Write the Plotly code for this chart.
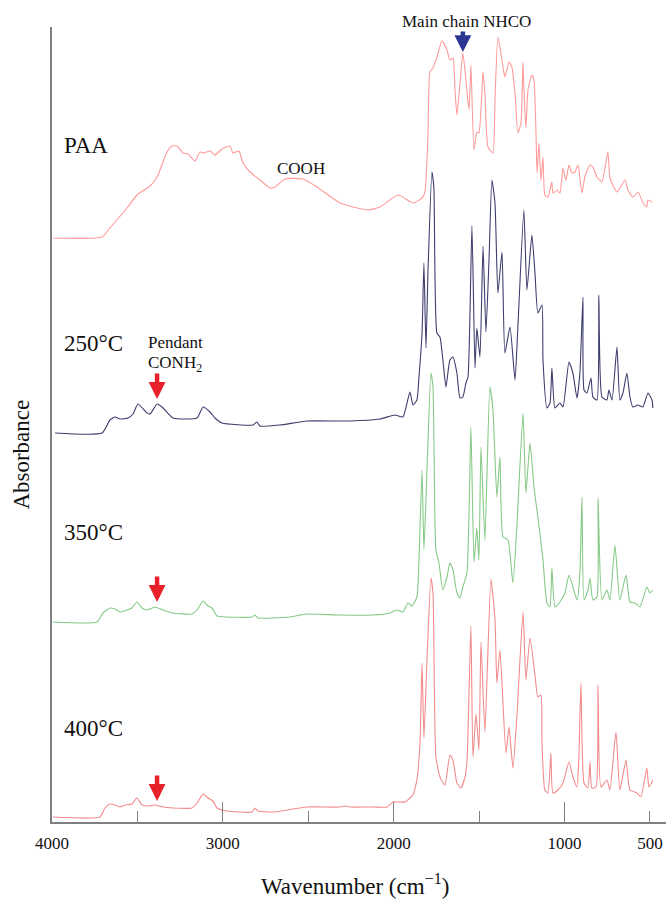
import plotly.graph_objects as go

# ---------------- data (wavenumber in cm-1, stacked absorbance in a.u.) ----------------
paa_wn = [3994, 3707, 3661, 3561, 3503, 3426, 3385, 3327, 3298, 3269, 3233, 3204, 3163, 3134, 3110,
          3075, 3046, 3005, 2958, 2941, 2906, 2882, 2841, 2783, 2724, 2695, 2636, 2531, 2449, 2314,
          2151, 2080, 1975, 1887, 1834, 1817, 1799, 1788, 1770, 1747, 1717, 1688, 1671, 1653, 1641,
          1630, 1612, 1595, 1577, 1559, 1548, 1530, 1513, 1501, 1477, 1466, 1448, 1419, 1407, 1390,
          1366, 1349, 1325, 1308, 1290, 1273, 1255, 1243, 1238, 1226, 1214, 1191, 1179, 1167, 1161,
          1150, 1138, 1126, 1115, 1097, 1074, 1068, 1044, 1027, 1009, 992, 974, 957, 939, 921, 898,
          881, 851, 834, 810, 781, 746, 734, 693, 646, 629, 600, 570, 541, 518, 512, 488]
paa_abs = [5.84, 5.85, 5.94, 6.14, 6.27, 6.36, 6.45, 6.70, 6.76, 6.76, 6.69, 6.68, 6.61, 6.70, 6.69,
           6.71, 6.67, 6.73, 6.76, 6.69, 6.71, 6.59, 6.50, 6.42, 6.34, 6.35, 6.43, 6.43, 6.35, 6.19,
           6.12, 6.15, 6.27, 6.19, 6.24, 6.30, 6.89, 7.50, 7.54, 7.65, 7.81, 7.72, 7.62, 7.64, 7.32,
           7.07, 7.39, 7.69, 7.42, 7.12, 7.57, 6.72, 6.90, 6.89, 7.50, 7.29, 6.75, 6.69, 7.22, 7.85,
           7.62, 7.45, 7.60, 7.55, 7.29, 6.89, 6.99, 7.60, 7.35, 6.94, 7.32, 7.47, 7.42, 6.89, 6.49,
           6.79, 6.42, 6.65, 6.27, 6.25, 6.40, 6.29, 6.32, 6.29, 6.54, 6.42, 6.57, 6.49, 6.50, 6.57,
           6.29, 6.45, 6.57, 6.55, 6.45, 6.40, 6.70, 6.44, 6.30, 6.42, 6.32, 6.25, 6.30, 6.19, 6.15,
           6.22, 6.20]

c250_wn = [3982, 3707, 3661, 3631, 3602, 3555, 3526, 3497, 3444, 3426, 3385, 3356, 3292, 3151, 3116,
           3075, 3046, 3005, 2824, 2800, 2783, 2666, 2508, 2256, 2080, 1992, 1946, 1905, 1887, 1864,
           1852, 1834, 1823, 1811, 1799, 1776, 1765, 1747, 1729, 1712, 1694, 1671, 1653, 1630, 1612,
           1595, 1577, 1565, 1542, 1524, 1513, 1495, 1477, 1460, 1442, 1425, 1407, 1390, 1366, 1349,
           1319, 1290, 1273, 1238, 1220, 1191, 1173, 1156, 1132, 1126, 1103, 1085, 1074, 1056, 1027,
           1009, 974, 951, 927, 910, 892, 886, 869, 845, 834, 810, 799, 781, 752, 740, 722, 693, 676,
           658, 635, 617, 600, 570, 541, 512, 488, 483]
c250_abs = [3.89, 3.89, 4.02, 4.05, 4.03, 4.04, 4.08, 4.18, 4.09, 4.08, 4.18, 4.15, 4.04, 4.04, 4.15,
            4.10, 4.04, 3.99, 3.97, 4.00, 3.96, 3.97, 4.01, 4.01, 4.03, 4.07, 4.05, 4.30, 4.17, 4.22,
            4.45, 4.89, 5.59, 4.74, 5.52, 6.50, 6.35, 4.89, 4.85, 4.62, 4.35, 4.62, 4.65, 4.49, 4.24,
            4.25, 4.39, 4.45, 5.96, 4.54, 4.94, 4.65, 5.76, 4.90, 5.62, 6.42, 6.19, 5.29, 5.70, 4.69,
            4.95, 4.42, 4.95, 6.12, 5.32, 5.87, 5.49, 5.09, 5.17, 4.62, 4.14, 4.19, 4.54, 4.14, 4.19,
            4.15, 4.60, 4.49, 4.24, 4.49, 5.25, 4.32, 4.29, 4.44, 4.25, 4.22, 5.27, 4.25, 4.22, 4.32,
            4.22, 4.75, 4.22, 4.29, 4.49, 4.25, 4.15, 4.17, 4.15, 4.29, 4.22, 4.14]

c350_wn = [3994, 3737, 3702, 3661, 3631, 3602, 3561, 3532, 3503, 3473, 3444, 3397, 3350, 3292, 3181,
           3151, 3116, 3087, 3064, 3034, 2976, 2829, 2812, 2794, 2707, 2607, 2508, 2314, 2121, 2022,
           1981, 1946, 1916, 1893, 1864, 1852, 1834, 1823, 1805, 1782, 1770, 1753, 1735, 1712, 1688,
           1671, 1653, 1630, 1612, 1595, 1571, 1548, 1530, 1513, 1501, 1489, 1466, 1437, 1419, 1396,
           1378, 1360, 1331, 1302, 1279, 1243, 1226, 1202, 1179, 1156, 1126, 1103, 1085, 1074, 1056,
           1027, 998, 974, 951, 927, 910, 898, 886, 863, 851, 834, 810, 804, 781, 752, 734, 705, 676,
           640, 617, 588, 559, 518, 500, 483]
c350_abs = [2.00, 2.00, 2.09, 2.14, 2.13, 2.10, 2.12, 2.14, 2.20, 2.14, 2.12, 2.15, 2.12, 2.09, 2.08,
            2.12, 2.21, 2.16, 2.14, 2.06, 2.05, 2.05, 2.07, 2.04, 2.04, 2.05, 2.08, 2.07, 2.07, 2.09,
            2.12, 2.10, 2.19, 2.16, 2.25, 2.62, 3.52, 2.72, 3.52, 4.49, 4.35, 2.72, 2.59, 2.32, 2.45,
            2.59, 2.52, 2.29, 2.24, 2.35, 2.49, 3.95, 2.60, 2.94, 2.62, 3.75, 2.82, 4.35, 4.12, 3.25,
            3.65, 2.85, 2.82, 2.39, 2.95, 4.09, 3.29, 3.79, 3.35, 3.05, 2.62, 2.19, 2.15, 2.54, 2.15,
            2.20, 2.29, 2.47, 2.35, 2.22, 2.49, 3.25, 2.22, 2.32, 2.44, 2.22, 2.25, 3.24, 2.22, 2.32,
            2.22, 2.77, 2.22, 2.47, 2.20, 2.19, 2.15, 2.35, 2.29, 2.32]

c400_wn = [3994, 3719, 3690, 3661, 3631, 3602, 3573, 3532, 3503, 3473, 3438, 3397, 3350, 3292, 3181,
           3151, 3116, 3087, 3058, 3034, 2976, 2829, 2812, 2794, 2707, 2589, 2508, 2314, 2285, 2256,
           2121, 2039, 2004, 1981, 1934, 1905, 1887, 1864, 1846, 1834, 1823, 1805, 1782, 1770, 1753,
           1729, 1700, 1671, 1653, 1630, 1606, 1583, 1571, 1548, 1536, 1518, 1501, 1489, 1466, 1431,
           1407, 1396, 1378, 1343, 1325, 1302, 1279, 1243, 1226, 1202, 1173, 1156, 1138, 1132, 1115,
           1097, 1080, 1068, 1039, 1009, 974, 951, 927, 916, 904, 886, 863, 851, 840, 816, 804, 787,
           752, 734, 699, 676, 640, 617, 576, 553, 518, 506, 483]
c400_abs = [0.05, 0.05, 0.14, 0.18, 0.17, 0.15, 0.17, 0.18, 0.24, 0.17, 0.16, 0.17, 0.15, 0.14, 0.14,
            0.19, 0.28, 0.24, 0.21, 0.14, 0.11, 0.10, 0.14, 0.11, 0.10, 0.13, 0.15, 0.15, 0.16, 0.15,
            0.15, 0.15, 0.20, 0.20, 0.20, 0.24, 0.27, 0.42, 0.79, 1.59, 0.84, 1.62, 2.44, 2.29, 0.65,
            0.45, 0.37, 0.67, 0.62, 0.39, 0.34, 0.45, 0.60, 1.96, 0.65, 1.08, 0.72, 1.80, 0.90, 2.43,
            2.02, 1.39, 1.72, 0.69, 0.95, 0.54, 1.05, 2.10, 1.42, 1.84, 1.47, 1.25, 1.27, 0.79, 0.32,
            0.29, 0.69, 0.29, 0.32, 0.39, 0.60, 0.45, 0.35, 0.65, 1.39, 0.39, 0.34, 0.60, 0.34, 0.35,
            1.37, 0.35, 0.42, 0.32, 0.90, 0.32, 0.62, 0.32, 0.29, 0.25, 0.54, 0.35, 0.42]

series_names = ["PAA", "250°C", "350°C", "400°C"]
series_colors = ["#ff9a9a", "#3d3d6e", "#86c986", "#f28b8b"]

# ---------------- figure ----------------
SERIF = "Liberation Serif"
TXT = "#111111"
fig = go.Figure()
for wn, ab, name, col in zip([paa_wn, c250_wn, c350_wn, c400_wn],
                             [paa_abs, c250_abs, c350_abs, c400_abs],
                             series_names, series_colors):
    fig.add_trace(go.Scatter(x=wn, y=ab, mode="lines", name=name,
                             line=dict(color=col, width=1.1, shape="spline", smoothing=0.5),
                             showlegend=False))

# invisible trace so the overlay axis (for the "500" label) renders
fig.add_trace(go.Scatter(x=[500], y=[0], xaxis="x2", mode="markers",
                         marker=dict(opacity=0), showlegend=False, hoverinfo="skip"))

# sample labels
label_y = [6.77, 4.79, 2.90, 0.94]
for name, yy in zip(series_names, label_y):
    fig.add_annotation(x=3941, y=yy, xref="x", yref="y", text=name, showarrow=False,
                       xanchor="left", yanchor="middle", font=dict(family=SERIF, size=23, color=TXT))

small = dict(family=SERIF, size=17, color=TXT)
fig.add_annotation(x=2543, y=6.54, text="COOH", showarrow=False, xanchor="center", yanchor="middle",
                   font=small)
fig.add_annotation(x=3450, y=4.80, text="Pendant", showarrow=False, xanchor="left", yanchor="middle",
                   font=small)
fig.add_annotation(x=3450, y=4.58, text="CONH<sub>2</sub>", showarrow=False, xanchor="left",
                   yanchor="middle", font=small)
fig.add_annotation(x=1571, y=1.0075, xref="x", yref="paper", text="Main chain NHCO", showarrow=False,
                   xanchor="center", yanchor="middle", font=small)

# arrows
for yy in [4.23, 2.20, 0.21]:
    fig.add_annotation(x=3385, y=yy, ax=0, ay=-27, showarrow=True, arrowhead=2, arrowsize=0.75,
                       arrowwidth=4.5, arrowcolor="#e8212b", text="")
fig.add_annotation(x=1595, y=7.70, ax=0, ay=-22, showarrow=True, arrowhead=2, arrowsize=0.75,
                   arrowwidth=4.5, arrowcolor="#2b3593", text="")

# axis titles
fig.add_annotation(x=-0.049, y=0.462, xref="paper", yref="paper", text="Absorbance", textangle=-90,
                   xanchor="center", yanchor="middle", showarrow=False,
                   font=dict(family=SERIF, size=23, color=TXT))
fig.add_annotation(x=0.4935, y=-0.058, xref="paper", yref="paper", text="Wavenumber (cm<sup>−1</sup>)",
                   xanchor="center", yanchor="top", showarrow=False,
                   font=dict(family=SERIF, size=23, color=TXT))

axis_col = "#7f7f7f"
tickfont = dict(family=SERIF, size=17, color=TXT)
fig.update_layout(
    width=666, height=905,
    margin=dict(l=52, r=0, t=27, b=83),
    paper_bgcolor="white", plot_bgcolor="white",
    font=dict(family=SERIF),
    xaxis=dict(range=[4000, 406], showgrid=False, zeroline=False, showline=True,
               linecolor=axis_col, linewidth=1.5,
               tickmode="array", tickvals=[4000, 3000, 2000, 1000],
               ticktext=["4000", "3000", "2000", "1000"],
               ticks="inside", ticklen=20, tickwidth=1.3, tickcolor=axis_col,
               ticklabelstandoff=5, tickfont=tickfont,
               minor=dict(dtick=500, tick0=0, ticks="inside", ticklen=11, tickwidth=1.3,
                          tickcolor=axis_col, showgrid=False)),
    xaxis2=dict(overlaying="x", range=[4000, 406], side="bottom", showgrid=False, zeroline=False,
                showline=False, tickmode="array", tickvals=[500], ticktext=["500"],
                ticks="inside", ticklen=1, tickcolor="rgba(0,0,0,0)",
                ticklabelstandoff=9, tickfont=tickfont),
    yaxis=dict(range=[0, 7.95], showgrid=False, zeroline=False, showline=True,
               linecolor=axis_col, linewidth=1.5, showticklabels=False, ticks=""),
)

fig.write_html("out.html")
